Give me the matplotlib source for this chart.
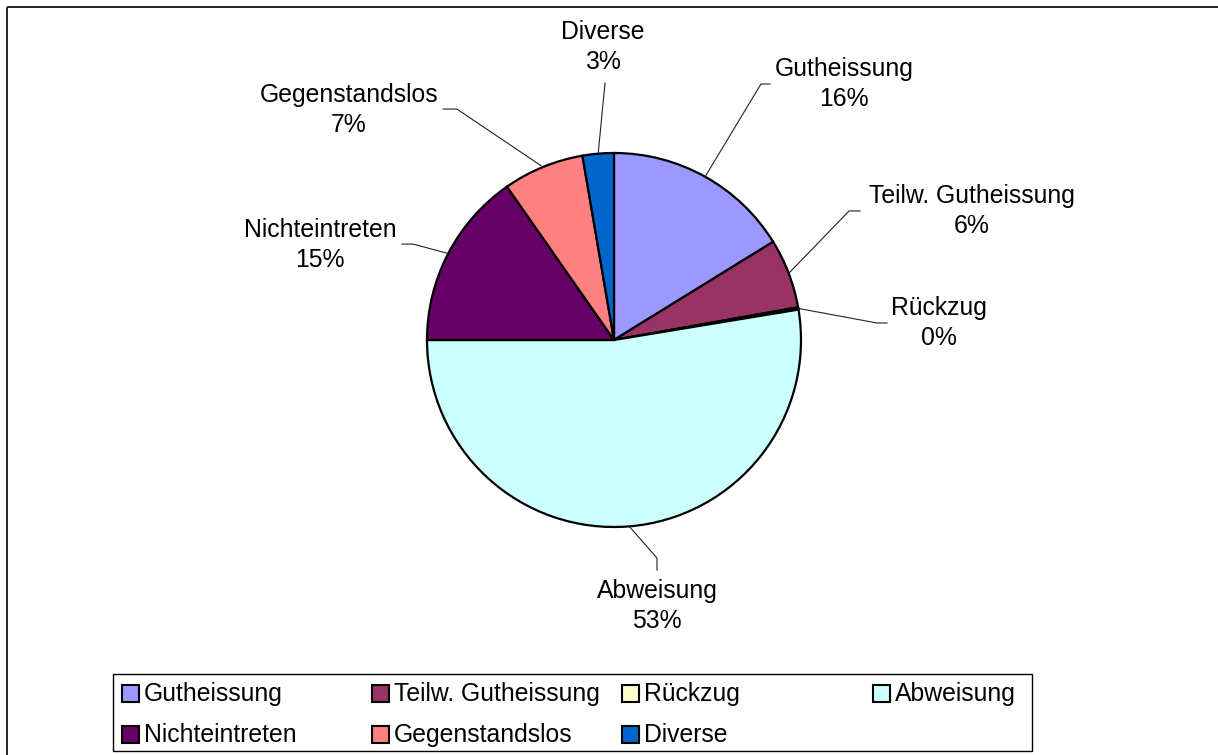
import numpy as np
import matplotlib.pyplot as plt
from matplotlib.patches import Rectangle

plt.rcParams['font.family'] = ['Liberation Sans', 'DejaVu Sans']

# Daten
kategorien = ['Gutheissung', 'Teilw. Gutheissung', 'Rückzug', 'Abweisung',
              'Nichteintreten', 'Gegenstandslos', 'Diverse']
anteile = [16.2, 6.0, 0.2, 52.6, 15.3, 7.0, 2.7]
farben = ['#9999FF', '#993366', '#FFFFCC', '#CCFFFF', '#660066', '#FF8080', '#0066CC']

# Lage der Beschriftungen (Radius-Einheiten): Textmitte, Knick der Linie, Linienende
text_pos = [(1.23, 1.369), (1.914, 0.69), (1.738, 0.091), (0.23, -1.422),
            (-1.572, 0.508), (-1.417, 1.23), (-0.059, 1.567)]
knick_pos = [(0.786, 1.369), (1.257, 0.69), (1.406, 0.091), (0.23, -1.166),
             (-1.075, 0.513), (-0.84, 1.235), (-0.048, 1.374)]
end_pos = [(0.834, 1.369), (1.316, 0.69), (1.46, 0.091), (0.23, -1.23),
           (-1.134, 0.513), (-0.914, 1.235), (-0.048, 1.374)]

W, H = 1218, 755
fs = 17.8
fig = plt.figure(figsize=(W / 100, H / 100), dpi=100)

# Hintergrund-Achse in Pixelkoordinaten (Rahmen + Legende)
bg = fig.add_axes([0, 0, 1, 1])
bg.set_xlim(0, W)
bg.set_ylim(H, 0)
bg.axis('off')
bg.add_patch(Rectangle((7, 7), W, H, fill=False, ec='black', lw=1.2))

# Legende von Hand (gleich breite Spalten wie im Original)
bg.add_patch(Rectangle((113, 674), 1032 - 113, 77, fill=False, ec='black', lw=1.0))
spalten_x = [122, 372, 622, 873]
zeilen_y = [694, 735]
for i, (name, farbe) in enumerate(zip(kategorien, farben)):
    x = spalten_x[i % 4]
    y = zeilen_y[i // 4]
    bg.add_patch(Rectangle((x, y - 9), 17, 17, fc=farbe, ec='black', lw=1.5))
    bg.text(x + 22, y, name, fontsize=fs, va='center', ha='left')

# Kuchendiagramm
cx, cy, r = 614, 340, 187
ax = fig.add_axes([(cx - r) / W, (H - cy - r) / H, 2 * r / W, 2 * r / H])
wedges, _ = ax.pie(anteile, colors=farben, startangle=90, counterclock=False,
                   radius=1, wedgeprops=dict(edgecolor='black', linewidth=1.6))
ax.set_xlim(-1, 1)
ax.set_ylim(-1, 1)
ax.set_aspect('auto')
ax.axis('off')
for w in wedges:
    w.set_clip_on(False)

for i, w in enumerate(wedges):
    mitte = np.deg2rad((w.theta1 + w.theta2) / 2)
    x0, y0 = np.cos(mitte), np.sin(mitte)
    kx, ky = knick_pos[i]
    ex, ey = end_pos[i]
    ax.plot([x0, kx, ex], [y0, ky, ey], color='#222222', lw=0.8, clip_on=False)
    prozent = round(anteile[i] / sum(anteile) * 100)
    tx, ty = text_pos[i]
    ax.text(tx, ty, f'{kategorien[i]}\n{prozent}%', fontsize=fs, ha='center',
            va='center', linespacing=1.3, clip_on=False)

fig.savefig('out.png', dpi=100)
